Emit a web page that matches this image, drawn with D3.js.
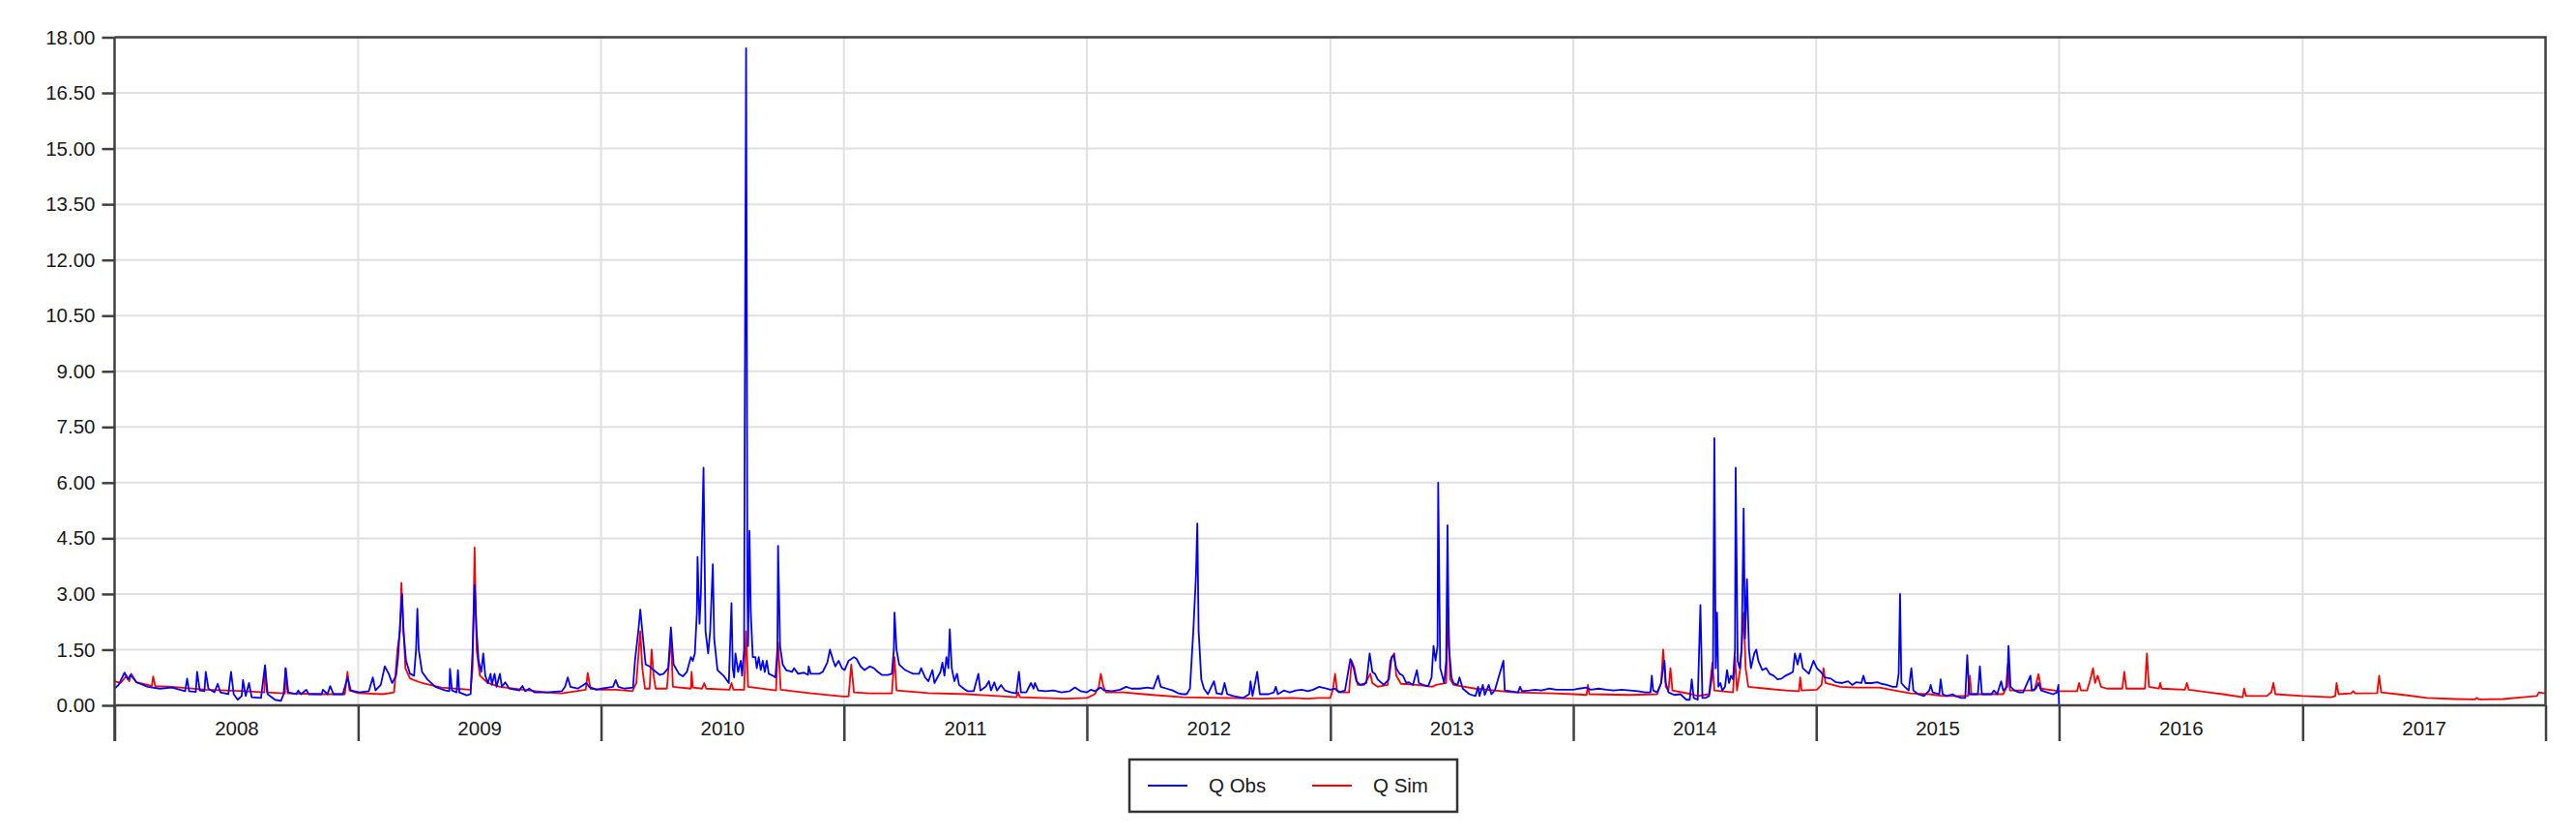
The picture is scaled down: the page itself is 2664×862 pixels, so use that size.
<!DOCTYPE html>
<html>
<head>
<meta charset="utf-8">
<script src="https://cdn.jsdelivr.net/npm/d3@7"></script>
<style>
  html, body { margin: 0; padding: 0; background: #ffffff; }
  svg { display: block; }
  text { font-family: "Liberation Sans", Arial, sans-serif; }
</style>
</head>
<body>
<script>
// ---------- DATA (dates as ISO ordinal "YYYY-DDD", discharge values) ----------
const seriesNames = ["Q Obs", "Q Sim"];
const seriesColors = ["#0000ff", "#ff0000"];
const yearLabels = ["2008","2009","2010","2011","2012","2013","2014","2015","2016","2017"];
const yTickValues = [0, 1.5, 3, 4.5, 6, 7.5, 9, 10.5, 12, 13.5, 15, 16.5, 18];

const qObs = [
["2008-001",0.45],["2008-007",0.55],["2008-016",0.88],["2008-021",0.7],["2008-025",0.82],["2008-034",0.62],["2008-051",0.5],["2008-069",0.45],["2008-087",0.48],["2008-107",0.38],["2008-110",0.72],["2008-113",0.38],["2008-123",0.36],["2008-125",0.9],["2008-129",0.4],["2008-136",0.38],["2008-138",0.9],["2008-142",0.45],["2008-151",0.35],["2008-156",0.58],["2008-160",0.35],["2008-172",0.3],["2008-176",0.9],["2008-180",0.3],["2008-186",0.15],["2008-192",0.25],["2008-194",0.68],["2008-198",0.25],["2008-203",0.6],["2008-207",0.22],["2008-221",0.2],["2008-227",1.08],["2008-231",0.3],["2008-242",0.15],["2008-251",0.12],["2008-255",0.3],["2008-258",1.0],["2008-262",0.35],["2008-274",0.3],["2008-277",0.4],["2008-281",0.3],["2008-289",0.42],["2008-293",0.3],["2008-312",0.3],["2008-314",0.42],["2008-321",0.3],["2008-325",0.52],["2008-330",0.3],["2008-344",0.3],["2008-351",0.75],["2008-356",0.4],
["2009-003",0.35],["2009-017",0.38],["2009-023",0.75],["2009-027",0.4],["2009-035",0.55],["2009-041",1.05],["2009-047",0.85],["2009-052",0.6],["2009-058",0.8],["2009-061",1.3],["2009-064",2.2],["2009-067",3.0],["2009-069",2.0],["2009-073",1.2],["2009-079",0.85],["2009-085",0.8],["2009-088",1.5],["2009-090",2.6],["2009-092",1.5],["2009-097",0.9],["2009-105",0.7],["2009-117",0.5],["2009-132",0.4],["2009-138",0.38],["2009-139",0.98],["2009-142",0.4],["2009-149",0.35],["2009-151",0.95],["2009-153",0.35],["2009-164",0.27],["2009-170",0.3],["2009-173",1.5],["2009-176",3.25],["2009-179",2.0],["2009-182",1.2],["2009-186",0.9],["2009-189",1.4],["2009-192",0.8],["2009-196",0.6],["2009-200",0.85],["2009-202",0.55],["2009-206",0.85],["2009-209",0.5],["2009-214",0.85],["2009-217",0.5],["2009-222",0.62],["2009-228",0.45],["2009-243",0.4],["2009-248",0.52],["2009-252",0.38],["2009-258",0.45],["2009-266",0.35],["2009-284",0.35],["2009-307",0.38],["2009-312",0.5],["2009-316",0.75],["2009-320",0.5],["2009-331",0.45],["2009-344",0.6],["2009-348",0.5],["2009-359",0.42],
["2010-002",0.45],["2010-019",0.5],["2010-023",0.68],["2010-027",0.5],["2010-036",0.45],["2010-049",0.48],["2010-052",1.2],["2010-057",2.0],["2010-060",2.58],["2010-063",2.0],["2010-068",1.1],["2010-074",1.05],["2010-080",0.95],["2010-089",0.82],["2010-095",0.85],["2010-102",1.0],["2010-106",2.1],["2010-110",1.1],["2010-118",0.85],["2010-124",0.78],["2010-130",0.9],["2010-136",1.3],["2010-139",1.2],["2010-142",1.4],["2010-145",2.5],["2010-146",4.0],["2010-149",2.2],["2010-151",3.0],["2010-155",6.4],["2010-158",2.0],["2010-162",1.4],["2010-165",2.0],["2010-169",3.8],["2010-171",1.8],["2010-176",0.95],["2010-185",0.8],["2010-193",0.6],["2010-197",2.75],["2010-199",1.0],["2010-201",0.75],["2010-203",1.4],["2010-207",0.9],["2010-211",1.2],["2010-213",0.8],["2010-216",1.5],["2010-217",8.0],["2010-219",17.7],["2010-221",3.0],["2010-222",1.6],["2010-224",4.7],["2010-226",2.5],["2010-229",1.3],["2010-233",1.3],["2010-235",1.0],["2010-238",1.3],["2010-241",0.95],["2010-244",1.2],["2010-247",0.9],["2010-250",1.2],["2010-253",0.85],["2010-259",0.8],["2010-263",0.75],["2010-266",1.5],["2010-267",4.3],["2010-270",1.6],["2010-274",1.1],["2010-279",0.95],["2010-288",0.9],["2010-291",1.0],["2010-297",0.85],["2010-306",0.88],["2010-312",0.82],["2010-313",1.05],["2010-316",0.85],["2010-329",0.85],["2010-334",0.9],["2010-341",1.15],["2010-345",1.5],["2010-350",1.2],["2010-353",1.05],["2010-358",1.2],["2010-363",1.0],
["2011-002",0.95],["2011-008",1.2],["2011-016",1.3],["2011-020",1.25],["2011-026",1.05],["2011-032",0.95],["2011-040",1.05],["2011-046",1.0],["2011-052",0.9],["2011-058",0.82],["2011-067",0.82],["2011-073",0.85],["2011-076",1.5],["2011-077",2.5],["2011-080",1.5],["2011-084",1.1],["2011-093",0.95],["2011-099",0.9],["2011-105",0.85],["2011-114",0.85],["2011-117",1.0],["2011-123",0.75],["2011-128",0.65],["2011-134",0.95],["2011-137",0.6],["2011-146",0.9],["2011-149",1.15],["2011-152",0.8],["2011-155",1.3],["2011-158",1.0],["2011-160",2.05],["2011-163",1.0],["2011-167",0.65],["2011-171",0.85],["2011-174",0.55],["2011-181",0.45],["2011-187",0.38],["2011-196",0.38],["2011-203",0.85],["2011-206",0.4],["2011-214",0.5],["2011-219",0.65],["2011-222",0.4],["2011-227",0.62],["2011-231",0.4],["2011-237",0.55],["2011-243",0.4],["2011-252",0.35],["2011-260",0.32],["2011-264",0.9],["2011-267",0.35],["2011-275",0.35],["2011-282",0.6],["2011-286",0.45],["2011-288",0.6],["2011-293",0.4],["2011-304",0.38],["2011-316",0.4],["2011-328",0.35],["2011-340",0.38],["2011-348",0.48],["2011-357",0.38],
["2012-001",0.35],["2012-007",0.42],["2012-013",0.38],["2012-022",0.48],["2012-027",0.4],["2012-039",0.38],["2012-051",0.42],["2012-060",0.5],["2012-068",0.45],["2012-080",0.45],["2012-092",0.48],["2012-101",0.45],["2012-108",0.8],["2012-112",0.5],["2012-121",0.45],["2012-130",0.4],["2012-139",0.32],["2012-145",0.3],["2012-151",0.3],["2012-156",0.45],["2012-161",2.0],["2012-165",3.5],["2012-167",4.9],["2012-169",2.0],["2012-173",0.7],["2012-177",0.45],["2012-183",0.3],["2012-192",0.65],["2012-196",0.32],["2012-204",0.3],["2012-208",0.6],["2012-212",0.3],["2012-221",0.25],["2012-236",0.2],["2012-245",0.3],["2012-247",0.65],["2012-250",0.25],["2012-257",0.9],["2012-261",0.3],["2012-274",0.3],["2012-282",0.35],["2012-285",0.5],["2012-288",0.3],["2012-297",0.4],["2012-306",0.35],["2012-315",0.4],["2012-324",0.42],["2012-333",0.38],["2012-341",0.42],["2012-350",0.5],["2012-361",0.45],
["2013-001",0.42],["2013-008",0.45],["2013-014",0.35],["2013-023",0.4],["2013-031",1.25],["2013-036",1.0],["2013-040",0.65],["2013-046",0.55],["2013-055",0.6],["2013-060",1.4],["2013-064",0.9],["2013-068",0.85],["2013-072",0.7],["2013-081",0.55],["2013-089",0.7],["2013-093",1.3],["2013-096",1.35],["2013-100",1.0],["2013-105",0.85],["2013-110",0.8],["2013-115",0.6],["2013-119",0.62],["2013-125",0.55],["2013-131",0.95],["2013-134",0.6],["2013-140",0.55],["2013-148",0.52],["2013-153",0.75],["2013-156",1.6],["2013-159",1.2],["2013-162",1.6],["2013-163",6.0],["2013-166",1.0],["2013-172",0.6],["2013-175",1.2],["2013-177",4.85],["2013-179",1.6],["2013-183",0.75],["2013-186",0.6],["2013-192",0.55],["2013-195",0.75],["2013-200",0.45],["2013-210",0.3],["2013-219",0.25],["2013-223",0.5],["2013-225",0.25],["2013-230",0.55],["2013-233",0.28],["2013-239",0.55],["2013-243",0.3],["2013-248",0.4],["2013-261",1.2],["2013-263",0.4],["2013-271",0.38],["2013-283",0.35],["2013-286",0.5],["2013-289",0.38],["2013-300",0.4],["2013-309",0.42],["2013-318",0.4],["2013-330",0.45],["2013-341",0.42],["2013-353",0.42],
["2014-001",0.42],["2014-010",0.45],["2014-021",0.48],["2014-027",0.42],["2014-039",0.45],["2014-051",0.42],["2014-062",0.4],["2014-074",0.42],["2014-086",0.4],["2014-098",0.38],["2014-109",0.35],["2014-117",0.35],["2014-119",0.8],["2014-121",0.4],["2014-127",0.35],["2014-133",0.6],["2014-136",1.0],["2014-138",1.2],["2014-140",0.6],["2014-144",0.35],["2014-153",0.28],["2014-162",0.3],["2014-171",0.15],["2014-176",0.15],["2014-179",0.7],["2014-182",0.2],["2014-188",0.15],["2014-192",2.7],["2014-195",0.2],["2014-200",0.2],["2014-205",0.25],["2014-208",0.6],["2014-211",1.0],["2014-213",7.2],["2014-215",1.0],["2014-217",2.5],["2014-219",0.5],["2014-222",0.6],["2014-225",0.4],["2014-229",0.5],["2014-232",0.95],["2014-235",0.6],["2014-238",0.8],["2014-241",0.7],["2014-244",1.5],["2014-245",6.4],["2014-248",1.2],["2014-251",1.0],["2014-254",1.5],["2014-257",5.3],["2014-259",1.8],["2014-262",3.4],["2014-265",1.5],["2014-268",1.0],["2014-273",1.4],["2014-276",1.5],["2014-279",1.2],["2014-285",0.95],["2014-291",1.0],["2014-296",0.85],["2014-302",0.8],["2014-308",0.7],["2014-314",0.72],["2014-320",0.8],["2014-326",0.85],["2014-331",0.9],["2014-334",1.4],["2014-338",1.1],["2014-342",1.4],["2014-346",1.0],["2014-355",0.85],["2014-362",1.2],
["2015-002",1.0],["2015-008",0.9],["2015-014",0.75],["2015-023",0.72],["2015-031",0.62],["2015-040",0.6],["2015-049",0.65],["2015-055",0.55],["2015-061",0.62],["2015-069",0.6],["2015-072",0.8],["2015-075",0.6],["2015-084",0.6],["2015-093",0.62],["2015-099",0.58],["2015-107",0.55],["2015-116",0.5],["2015-122",0.5],["2015-125",0.85],["2015-127",3.0],["2015-129",0.6],["2015-134",0.5],["2015-140",0.4],["2015-144",1.0],["2015-147",0.4],["2015-154",0.3],["2015-163",0.25],["2015-171",0.4],["2015-173",0.55],["2015-176",0.35],["2015-186",0.3],["2015-188",0.7],["2015-191",0.3],["2015-197",0.25],["2015-206",0.3],["2015-210",0.25],["2015-219",0.2],["2015-225",0.2],["2015-228",1.35],["2015-231",0.3],["2015-237",0.3],["2015-244",0.3],["2015-247",1.05],["2015-250",0.3],["2015-264",0.3],["2015-268",0.4],["2015-273",0.3],["2015-279",0.65],["2015-282",0.4],["2015-288",0.5],["2015-290",1.6],["2015-293",0.5],["2015-299",0.4],["2015-306",0.35],["2015-312",0.35],["2015-323",0.8],["2015-325",0.4],["2015-331",0.45],["2015-335",0.6],["2015-339",0.4],["2015-348",0.35],["2015-357",0.3],["2015-363",0.35],["2015-365",0.55],["2016-001",0.0]
];

const qSim = [
["2008-001",0.65],["2008-010",0.6],["2008-019",0.8],["2008-023",0.65],["2008-026",0.85],["2008-034",0.62],["2008-051",0.55],["2008-057",0.52],["2008-059",0.78],["2008-062",0.52],["2008-087",0.5],["2008-139",0.42],["2008-198",0.38],["2008-226",0.35],["2008-227",1.05],["2008-230",0.35],["2008-257",0.32],["2008-258",1.0],["2008-261",0.32],["2008-315",0.3],["2008-347",0.3],["2008-351",0.9],["2008-354",0.4],
["2009-001",0.33],["2009-038",0.3],["2009-055",0.35],["2009-060",1.5],["2009-064",2.0],["2009-066",3.3],["2009-068",2.5],["2009-072",1.0],["2009-079",0.72],["2009-097",0.6],["2009-126",0.48],["2009-170",0.42],["2009-173",1.0],["2009-176",4.25],["2009-179",1.5],["2009-184",0.8],["2009-196",0.6],["2009-214",0.5],["2009-249",0.42],["2009-284",0.35],["2009-307",0.32],["2009-343",0.42],["2009-346",0.87],["2009-350",0.45],
["2010-001",0.42],["2010-024",0.42],["2010-048",0.38],["2010-054",0.6],["2010-060",2.0],["2010-063",1.0],["2010-067",0.45],["2010-074",0.45],["2010-077",1.5],["2010-080",0.8],["2010-083",0.45],["2010-100",0.45],["2010-106",1.85],["2010-109",0.5],["2010-136",0.45],["2010-137",0.9],["2010-139",0.48],["2010-153",0.45],["2010-156",0.6],["2010-159",0.45],["2010-194",0.42],["2010-197",0.6],["2010-200",0.42],["2010-216",0.42],["2010-219",2.0],["2010-222",0.5],["2010-264",0.4],["2010-267",1.7],["2010-271",0.42],["2010-317",0.32],["2010-365",0.24],
["2011-008",0.24],["2011-012",1.1],["2011-016",0.35],["2011-040",0.32],["2011-073",0.32],["2011-077",1.3],["2011-080",0.4],["2011-128",0.33],["2011-187",0.3],["2011-260",0.22],["2011-263",0.35],["2011-265",0.22],["2011-334",0.18],
["2012-001",0.2],["2012-013",0.3],["2012-019",0.5],["2012-022",0.85],["2012-026",0.5],["2012-030",0.35],["2012-057",0.35],["2012-086",0.3],["2012-145",0.22],["2012-204",0.2],["2012-262",0.18],["2012-309",0.2],["2012-333",0.18],["2012-350",0.2],
["2013-001",0.2],["2013-005",0.45],["2013-008",0.85],["2013-011",0.4],["2013-017",0.35],["2013-029",0.35],["2013-033",1.2],["2013-037",1.0],["2013-042",0.55],["2013-052",0.55],["2013-061",0.85],["2013-064",0.6],["2013-072",0.5],["2013-087",0.55],["2013-091",1.2],["2013-097",1.4],["2013-100",0.8],["2013-107",0.58],["2013-131",0.55],["2013-154",0.5],["2013-160",0.55],["2013-175",0.6],["2013-178",2.6],["2013-181",0.7],["2013-186",0.55],["2013-219",0.45],["2013-277",0.35],["2013-336",0.32],
["2014-001",0.3],["2014-021",0.28],["2014-023",0.55],["2014-025",0.3],["2014-086",0.28],["2014-127",0.3],["2014-133",0.6],["2014-136",1.5],["2014-140",0.5],["2014-144",0.4],["2014-147",1.0],["2014-150",0.4],["2014-179",0.3],["2014-188",0.25],["2014-205",0.3],["2014-210",1.15],["2014-213",0.4],["2014-241",0.35],["2014-244",1.3],["2014-247",0.4],["2014-252",1.0],["2014-257",2.5],["2014-260",1.0],["2014-264",0.5],["2014-291",0.45],["2014-320",0.4],["2014-340",0.38],["2014-342",0.75],["2014-344",0.4],
["2015-002",0.42],["2015-009",0.55],["2015-012",1.0],["2015-015",0.6],["2015-037",0.5],["2015-061",0.48],["2015-096",0.48],["2015-119",0.4],["2015-143",0.32],["2015-171",0.3],["2015-191",0.25],["2015-229",0.25],["2015-232",0.8],["2015-234",0.3],["2015-282",0.3],["2015-286",0.45],["2015-289",1.1],["2015-292",0.4],["2015-329",0.4],["2015-335",0.84],["2015-339",0.45],
["2016-001",0.38],["2016-019",0.38],["2016-028",0.38],["2016-031",0.6],["2016-034",0.4],["2016-043",0.4],["2016-048",0.7],["2016-052",1.0],["2016-055",0.6],["2016-059",0.8],["2016-064",0.5],["2016-073",0.45],["2016-096",0.45],["2016-099",0.9],["2016-102",0.45],["2016-130",0.45],["2016-133",1.4],["2016-136",0.5],["2016-151",0.45],["2016-153",0.6],["2016-155",0.45],["2016-190",0.42],["2016-193",0.6],["2016-196",0.42],["2016-247",0.3],["2016-277",0.22],["2016-279",0.45],["2016-282",0.25],["2016-313",0.25],["2016-320",0.35],["2016-323",0.6],["2016-326",0.3],
["2017-001",0.25],["2017-044",0.22],["2017-050",0.25],["2017-052",0.6],["2017-055",0.3],["2017-074",0.32],["2017-077",0.38],["2017-080",0.32],["2017-113",0.33],["2017-116",0.8],["2017-119",0.35],["2017-153",0.28],["2017-188",0.2],["2017-230",0.17],["2017-260",0.16],["2017-262",0.2],["2017-266",0.16],["2017-302",0.17],["2017-332",0.22],["2017-353",0.25],["2017-356",0.35],["2017-365",0.32]
];

// ---------- CHART ----------
const W = 2664, H = 862;
const plot = { left: 118.5, top: 38.5, right: 2632.5, bottom: 729 };
const parse = d3.timeParse("%Y-%j");

const svg = d3.select("body").append("svg").attr("width", W).attr("height", H);

const x = d3.scaleTime()
  .domain([new Date(2008, 0, 1), new Date(2018, 0, 1)])
  .range([plot.left, plot.right]);
const y = d3.scaleLinear().domain([0, 18]).range([plot.bottom, plot.top]);

const yearStarts = d3.range(2008, 2019).map(yr => new Date(yr, 0, 1));
const yearMids = yearLabels.map(s => new Date(+s, 6, 2));

// grid
const grid = svg.append("g");
grid.selectAll("line.h").data(yTickValues.filter(v => v > 0 && v < 18)).join("line")
  .attr("x1", plot.left).attr("x2", plot.right)
  .attr("y1", d => y(d)).attr("y2", d => y(d))
  .attr("stroke", "#e0e0e0").attr("stroke-width", 2);
grid.selectAll("line.v").data(yearStarts.slice(1, -1)).join("line")
  .attr("x1", d => x(d)).attr("x2", d => x(d))
  .attr("y1", plot.top).attr("y2", plot.bottom)
  .attr("stroke", "#e0e0e0").attr("stroke-width", 2);

// series lines
const line = d3.line().x(d => x(parse(d[0]))).y(d => y(d[1]));
const data = [qObs, qSim];
[1, 0].forEach(i => {
  svg.append("path").datum(data[i])
    .attr("d", line).attr("fill", "none")
    .attr("stroke", seriesColors[i]).attr("stroke-width", 1.8)
    .attr("stroke-linejoin", "round");
});

// frame (top and right)
svg.append("path")
  .attr("d", `M${plot.left},${plot.top}H${plot.right}V${plot.bottom}`)
  .attr("fill", "none").attr("stroke", "#404040").attr("stroke-width", 2.5);

// y axis
const yAxis = d3.axisLeft(y).tickValues(yTickValues).tickFormat(d3.format(".2f"))
  .tickSize(13).tickPadding(7);
const gy = svg.append("g").attr("transform", `translate(${plot.left},0)`).call(yAxis);
gy.select(".domain").attr("stroke", "#404040").attr("stroke-width", 2.5)
  .attr("d", `M0,${plot.top}V${plot.bottom + 37}`);
gy.selectAll(".tick line").attr("stroke", "#404040").attr("stroke-width", 2.5);
gy.selectAll(".tick text").attr("font-size", 20.5).attr("fill", "#1a1a1a")
  .attr("font-family", "'Liberation Sans', Arial, sans-serif");

// x axis: year boundary ticks
const xAxis = d3.axisBottom(x).tickValues(yearStarts).tickSize(37).tickFormat("");
const gx = svg.append("g").attr("transform", `translate(0,${plot.bottom})`).call(xAxis);
gx.select(".domain").attr("stroke", "#404040").attr("stroke-width", 2.5)
  .attr("d", `M${plot.left},0H${plot.right}`);
gx.selectAll(".tick line").attr("stroke", "#404040").attr("stroke-width", 2.5);

// x axis: year labels
const xLab = d3.axisBottom(x).tickValues(yearMids).tickSize(0).tickPadding(16)
  .tickFormat((d, i) => yearLabels[i]);
const gxl = svg.append("g").attr("transform", `translate(0,${plot.bottom})`).call(xLab);
gxl.select(".domain").remove();
gxl.selectAll(".tick text").attr("font-size", 20.5).attr("fill", "#1a1a1a")
  .attr("font-family", "'Liberation Sans', Arial, sans-serif");

// legend
const lg = svg.append("g");
lg.append("rect").attr("x", 1168).attr("y", 785).attr("width", 339).attr("height", 54)
  .attr("fill", "#fff").attr("stroke", "#333").attr("stroke-width", 2.5);
const legendX = [1187, 1357];
seriesNames.forEach((n, i) => {
  lg.append("line").attr("x1", legendX[i]).attr("x2", legendX[i] + 41)
    .attr("y1", 812).attr("y2", 812).attr("stroke", seriesColors[i]).attr("stroke-width", 2);
  lg.append("text").attr("x", legendX[i] + 63).attr("y", 812).attr("dy", "0.35em")
    .attr("font-size", 20.5).attr("fill", "#1a1a1a").text(n);
});
</script>
</body>
</html>
